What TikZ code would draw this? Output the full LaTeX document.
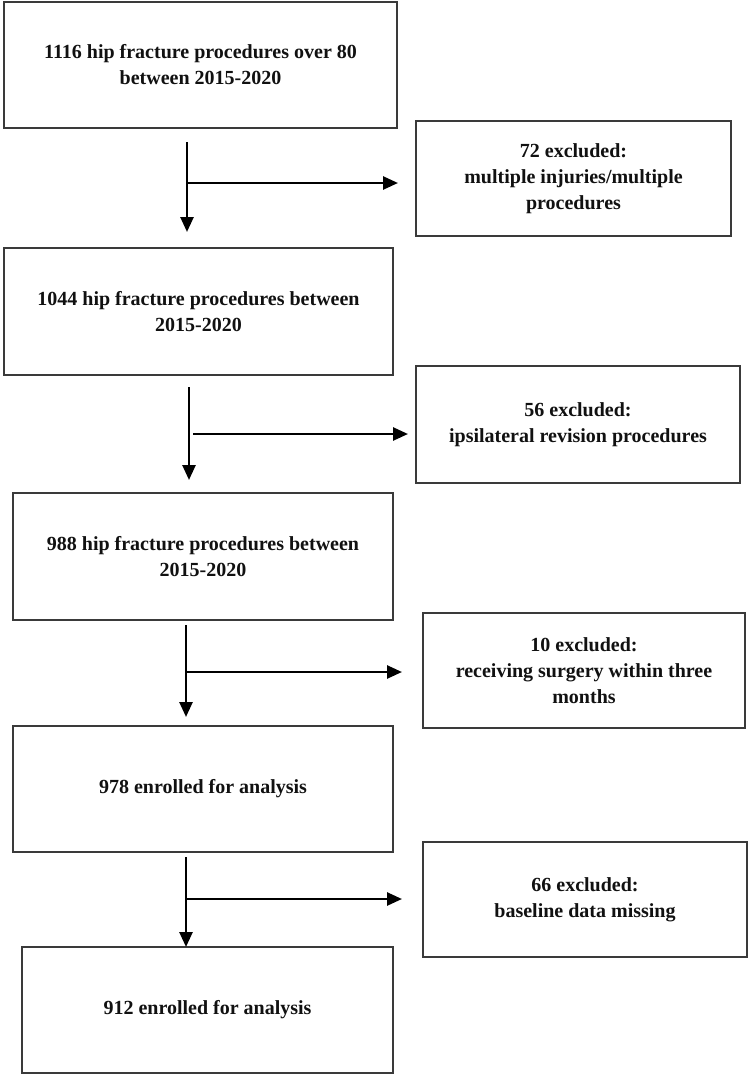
\documentclass[tikz,border=0pt]{standalone}
\usepackage{fontspec}
\setmainfont{Liberation Serif}
\usetikzlibrary{arrows.meta}
\definecolor{boxline}{HTML}{3A3A3A}
\definecolor{txt}{HTML}{111111}
\tikzset{
  flowbox/.style={draw=boxline, line width=2pt, rectangle, inner sep=0pt, align=center,
    font=\fontsize{20}{26}\selectfont\bfseries, text=txt},
  flowarrow/.style={line width=2.6pt, -{Triangle[length=15pt,width=13pt]}, black},
}
\newcommand{\fbx}[6]{% name, x1, y1, x2, y2, text
  \node[flowbox, minimum width={(#4-#2)*1pt}, minimum height={(#5-#3)*1pt}]
    (#1) at ({(#2+#4)/2},{(#3+#5)/2}) {#6};}
\begin{document}
\begin{tikzpicture}[x=1pt,y=-1pt]
\useasboundingbox (0,0) rectangle (749,1076);
\fill[white] (0,0) rectangle (749,1076);
% main column
\fbx{b1}{4}{2}{397}{128}{1116 hip fracture procedures over 80\\between 2015-2020}
\fbx{b2}{4}{248}{393}{375}{1044 hip fracture procedures between\\2015-2020}
\fbx{b3}{13}{493}{393}{620}{988 hip fracture procedures between\\2015-2020}
\fbx{b4}{13}{726}{393}{852}{978 enrolled for analysis}
\fbx{b5}{22}{947}{393}{1073}{912 enrolled for analysis}
% exclusion boxes
\fbx{r1}{416}{121}{731}{236}{72 excluded:\\multiple injuries/multiple\\procedures}
\fbx{r2}{416}{366}{740}{483}{56 excluded:\\ipsilateral revision procedures}
\fbx{r3}{423}{613}{745}{728}{10 excluded:\\receiving surgery within three\\months}
\fbx{r4}{423}{842}{747}{957}{66 excluded:\\baseline data missing}
% connector coordinates
\coordinate (s1) at (187,142); \coordinate (e1) at (187,232);
\coordinate (k1) at (187,183); \coordinate (h1) at (398,183);
\coordinate (s2) at (189,387); \coordinate (e2) at (189,480);
\coordinate (k2) at (193,434); \coordinate (h2) at (408,434);
\coordinate (s3) at (186,625); \coordinate (e3) at (186,717);
\coordinate (k3) at (186,672); \coordinate (h3) at (402,672);
\coordinate (s4) at (186,857); \coordinate (e4) at (186,947);
\coordinate (k4) at (186,899); \coordinate (h4) at (402,899);
\foreach \i in {1,2,3,4}{
  \draw[flowarrow] (s\i) -- (e\i);
  \draw[flowarrow] (k\i) -- (h\i);
}
\end{tikzpicture}
\end{document}
